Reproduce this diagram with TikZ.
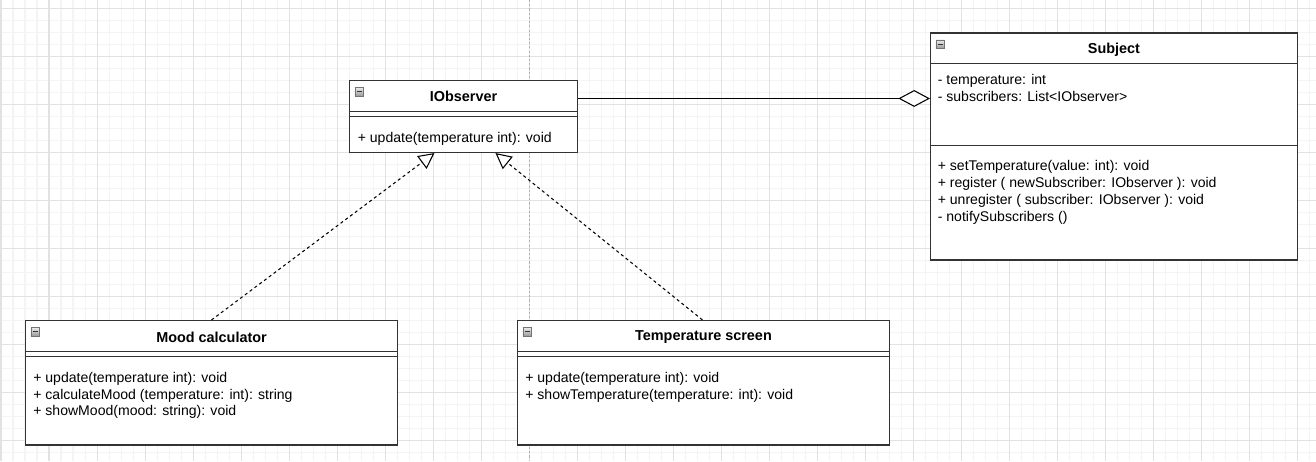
\documentclass[tikz,border=0pt]{standalone}
\usepackage{fontspec}
\setmainfont{Liberation Sans}
\usetikzlibrary{arrows.meta,calc,fit}

\definecolor{gridminor}{HTML}{F4F4F4}
\definecolor{gridmajor}{HTML}{E2E2E2}
\definecolor{boxline}{HTML}{333333}

\tikzset{
  umlbox/.style={draw=boxline, line width=0.6pt, fill=white, inner sep=0pt},
  umlsep/.style={draw=boxline, line width=0.6pt},
  umltitle/.style={font=\bfseries\fontsize{8.2}{9.5}\selectfont, inner sep=0pt},
  umltext/.style={font=\fontsize{8}{9.5}\selectfont, anchor=base west, inner sep=0pt},
  foldbox/.style={draw=black!55, line width=0.45pt, top color=black!8, bottom color=black!40},
  realize/.style={draw=black, line width=0.6pt, dash pattern=on 1.7pt off 1.7pt,
    -{Triangle[open, length=9pt, width=9pt, fill=white]}},
  aggregate/.style={draw=black, line width=0.6pt,
    -{Diamond[open, length=18pt, width=9.6pt, fill=white]}},
}

\begin{document}
\begin{tikzpicture}[x=0.02cm, y=-0.02cm]
  \useasboundingbox (0,0) rectangle (1316,461);
  \fill[white] (0,0) rectangle (1316,461);
  % background grid
  \foreach \gx in {1,13,...,1316} \draw[gridminor, line width=0.57pt] (\gx,0) -- (\gx,461);
  \foreach \gy in {8,20,...,461} \draw[gridminor, line width=0.57pt] (0,\gy) -- (1316,\gy);
  \foreach \gx in {1,49,...,1316} \draw[gridmajor, line width=0.57pt] (\gx,0) -- (\gx,461);
  \foreach \gy in {8,56,...,461} \draw[gridmajor, line width=0.57pt] (0,\gy) -- (1316,\gy);
  \draw[black!30, line width=0.57pt, dash pattern=on 1.2pt off 1.2pt] (529.3,0) -- (529.3,461);

  % classes
  \node[umlbox, fit={(349.5,80.5) (577.5,152.5)}] (iobs) {};
  \node[umlbox, fit={(930.5,33) (1297.5,260)}] (subj) {};
  \node[umlbox, fit={(25.5,320.5) (397.5,445)}] (mood) {};
  \node[umlbox, fit={(517.5,320.5) (889.5,445)}] (temp) {};

  % compartments
  \foreach \n in {iobs,mood,temp} {
    \draw[umlsep] ($(\n.north west)+(0,31.8)$) -- ($(\n.north east)+(0,31.8)$);
    \draw[umlsep] ($(\n.north west)+(0,36.2)$) -- ($(\n.north east)+(0,36.2)$);
  }
  \draw[umlsep] ($(subj.north west)+(0,31)$) -- ($(subj.north east)+(0,31)$);
  \draw[umlsep] ($(subj.north west)+(0,112.7)$) -- ($(subj.north east)+(0,112.7)$);

  % fold icons
  \foreach \n in {iobs,subj,mood,temp} {
    \draw[foldbox] ($(\n.north west)+(6,7.5)$) rectangle ++(8.5,8.5);
    \draw[black!80, line width=0.6pt] ($(\n.north west)+(7.8,11.75)$) -- ++(4.9,0);
  }

  % titles
  \node[umltitle] (iobs title) at ($(iobs.north)+(0,16.5)$) {IObserver};
  \node[umltitle] (subj title) at ($(subj.north)+(0,17.5)$) {Subject};
  \node[umltitle] (mood title) at ($(mood.north)+(0,17.2)$) {Mood calculator};
  \node[umltitle] (temp title) at ($(temp.north)+(0,17.2)$) {Temperature screen};

  % members
  \node[umltext] (iobs m1) at ($(iobs.north west)+(8.5,62.3)$) {+ update(temperature int): void};
  \foreach \txt [count=\i] in {- temperature: int, - subscribers: List<IObserver>}
    \node[umltext] (subj a\i) at ($(subj.north west)+(7.5,{51.8+(\i-1)*17.7})$) {\txt};
  \foreach \txt [count=\i] in {+ setTemperature(value: int): void,
      + register ( newSubscriber: IObserver ): void,
      + unregister ( subscriber: IObserver ): void,
      - notifySubscribers ()}
    \node[umltext] (subj m\i) at ($(subj.north west)+(7.5,{138.5+(\i-1)*16.7})$) {\txt};
  \foreach \txt [count=\i] in {+ update(temperature int): void,
      + calculateMood (temperature: int): string,
      + showMood(mood: string): void}
    \node[umltext] (mood m\i) at ($(mood.north west)+(8,{62.6+(\i-1)*16.7})$) {\txt};
  \foreach \txt [count=\i] in {+ update(temperature int): void,
      + showTemperature(temperature: int): void}
    \node[umltext] (temp m\i) at ($(temp.north west)+(8,{62.6+(\i-1)*16.7})$) {\txt};

  % relations
  \coordinate (agg start) at ($(iobs.north east)+(0,18.5)$);
  \draw[aggregate] (agg start) -- (agg start -| subj.west);
  \draw[realize] ($(mood.north west)+(186.5,0)$) -- ($(iobs.south west)+(85.5,0)$);
  \draw[realize] ($(temp.north west)+(185.5,0)$) -- ($(iobs.south west)+(146.5,0)$);
\end{tikzpicture}
\end{document}
